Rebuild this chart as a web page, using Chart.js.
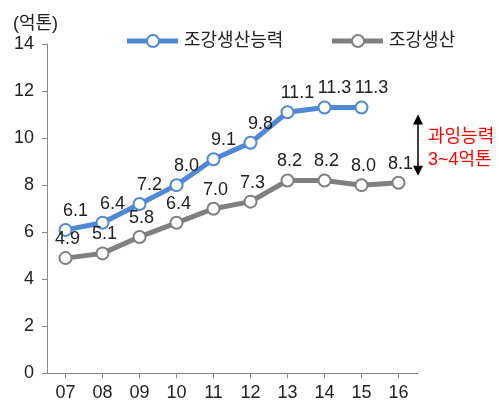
<!DOCTYPE html>
<html>
<head>
<meta charset="utf-8">
<script src="https://cdn.jsdelivr.net/npm/chart.js@4/dist/chart.umd.min.js"></script>
<style>
  body { margin: 0; background: #fff; }
  #wrap { width: 499px; height: 400px; }
</style>
</head>
<body>
<div id="wrap"><canvas id="myChart"></canvas></div>
<script>
const years = ["07", "08", "09", "10", "11", "12", "13", "14", "15", "16"];
const capacity = [6.1, 6.4, 7.2, 8.0, 9.1, 9.8, 11.1, 11.3, 11.3, null];
const production = [4.9, 5.1, 5.8, 6.4, 7.0, 7.3, 8.2, 8.2, 8.0, 8.1];
const yTicks = [0, 2, 4, 6, 8, 10, 12, 14];

const FONT = '"Liberation Sans", "Noto Sans CJK KR", sans-serif';
const BLUE = '#4f88d6';
const GRAY = '#7f7f7f';

// labels, legend, unit and the arrow note
const extras = {
    id: 'extras',
    afterDatasetsDraw(chart){
        const ctx = chart.ctx;
        const x = chart.scales.x, y = chart.scales.y;
        ctx.save();
        ctx.font = '18px ' + FONT;
        ctx.fillStyle = '#222';
        ctx.textAlign = 'center';
        ctx.textBaseline = 'middle';
        const offs = [10, 2];
        chart.data.datasets.forEach((ds, i) => {
            chart.getDatasetMeta(i).data.forEach((pt, j) => {
                if (ds.data[j] == null) return;
                ctx.fillText(ds.data[j].toFixed(1), pt.x + offs[i], pt.y - 19);
            });
        });

        // unit
        ctx.textAlign = 'left';
        ctx.fillText('(억톤)', 13, 24);

        // legend
        const items = [[127, '조강생산능력', BLUE], [332, '조강생산', GRAY]];
        items.forEach(it => {
            const lx = it[0], ly = 41;
            ctx.strokeStyle = it[2];
            ctx.lineWidth = 5;
            ctx.beginPath();
            ctx.moveTo(lx, ly);
            ctx.lineTo(lx + 51, ly);
            ctx.stroke();
            ctx.beginPath();
            ctx.arc(lx + 26, ly, 6, 0, Math.PI * 2);
            ctx.fillStyle = '#fff';
            ctx.fill();
            ctx.lineWidth = 2;
            ctx.stroke();
            ctx.fillStyle = '#222';
            ctx.fillText(it[1], lx + 57, ly);
        });

        // arrow
        const ax = x.right + 1;
        const top = y.getPixelForValue(11.0), bot = y.getPixelForValue(8.4);
        ctx.strokeStyle = '#000';
        ctx.fillStyle = '#000';
        ctx.lineWidth = 1.5;
        ctx.beginPath();
        ctx.moveTo(ax, top + 8);
        ctx.lineTo(ax, bot - 8);
        ctx.stroke();
        ctx.beginPath();
        ctx.moveTo(ax, top); ctx.lineTo(ax - 5, top + 10); ctx.lineTo(ax + 5, top + 10);
        ctx.closePath(); ctx.fill();
        ctx.beginPath();
        ctx.moveTo(ax, bot); ctx.lineTo(ax - 5, bot - 10); ctx.lineTo(ax + 5, bot - 10);
        ctx.closePath(); ctx.fill();

        ctx.fillStyle = '#ff0000';
        ctx.fillText('과잉능력', 428, 137);
        ctx.fillText('3~4억톤', 428, 160);
        ctx.restore();
    }
};

const ctx = document.getElementById('myChart').getContext('2d');
const myChart = new Chart(ctx, {
    type: 'line',
    data: {
        labels: years,
        datasets: [{
            label: '조강생산능력',
            data: capacity,
            borderColor: BLUE,
            borderWidth: 5,
            pointRadius: 6,
            pointBorderWidth: 2,
            pointBackgroundColor: '#fff',
            pointBorderColor: BLUE,
            tension: 0
        }, {
            label: '조강생산',
            data: production,
            borderColor: GRAY,
            borderWidth: 5,
            pointRadius: 6,
            pointBorderWidth: 2,
            pointBackgroundColor: '#fff',
            pointBorderColor: GRAY,
            tension: 0
        }]
    },
    options: {
        responsive: true,
        maintainAspectRatio: false,
        animation: false,
        layout: { padding: { top: 44, right: 82, left: 6, bottom: -8 } },
        plugins: {
            legend: { display: false },
            tooltip: { enabled: false }
        },
        scales: {
            x: {
                offset: true,
                grid: { display: true, drawOnChartArea: false, tickLength: 5, color: '#888' },
                border: { color: '#888', width: 1 },
                ticks: { color: '#222', font: { size: 18, family: FONT }, padding: 4 }
            },
            y: {
                min: 0,
                max: 14,
                afterBuildTicks(axis){ axis.ticks = yTicks.map(v => ({ value: v })); },
                grid: { display: true, drawOnChartArea: false, tickLength: 5, color: '#888' },
                border: { color: '#888', width: 1 },
                ticks: { color: '#222', font: { size: 18, family: FONT }, padding: 8 }
            }
        }
    },
    plugins: [extras]
});
</script>
</body>
</html>
